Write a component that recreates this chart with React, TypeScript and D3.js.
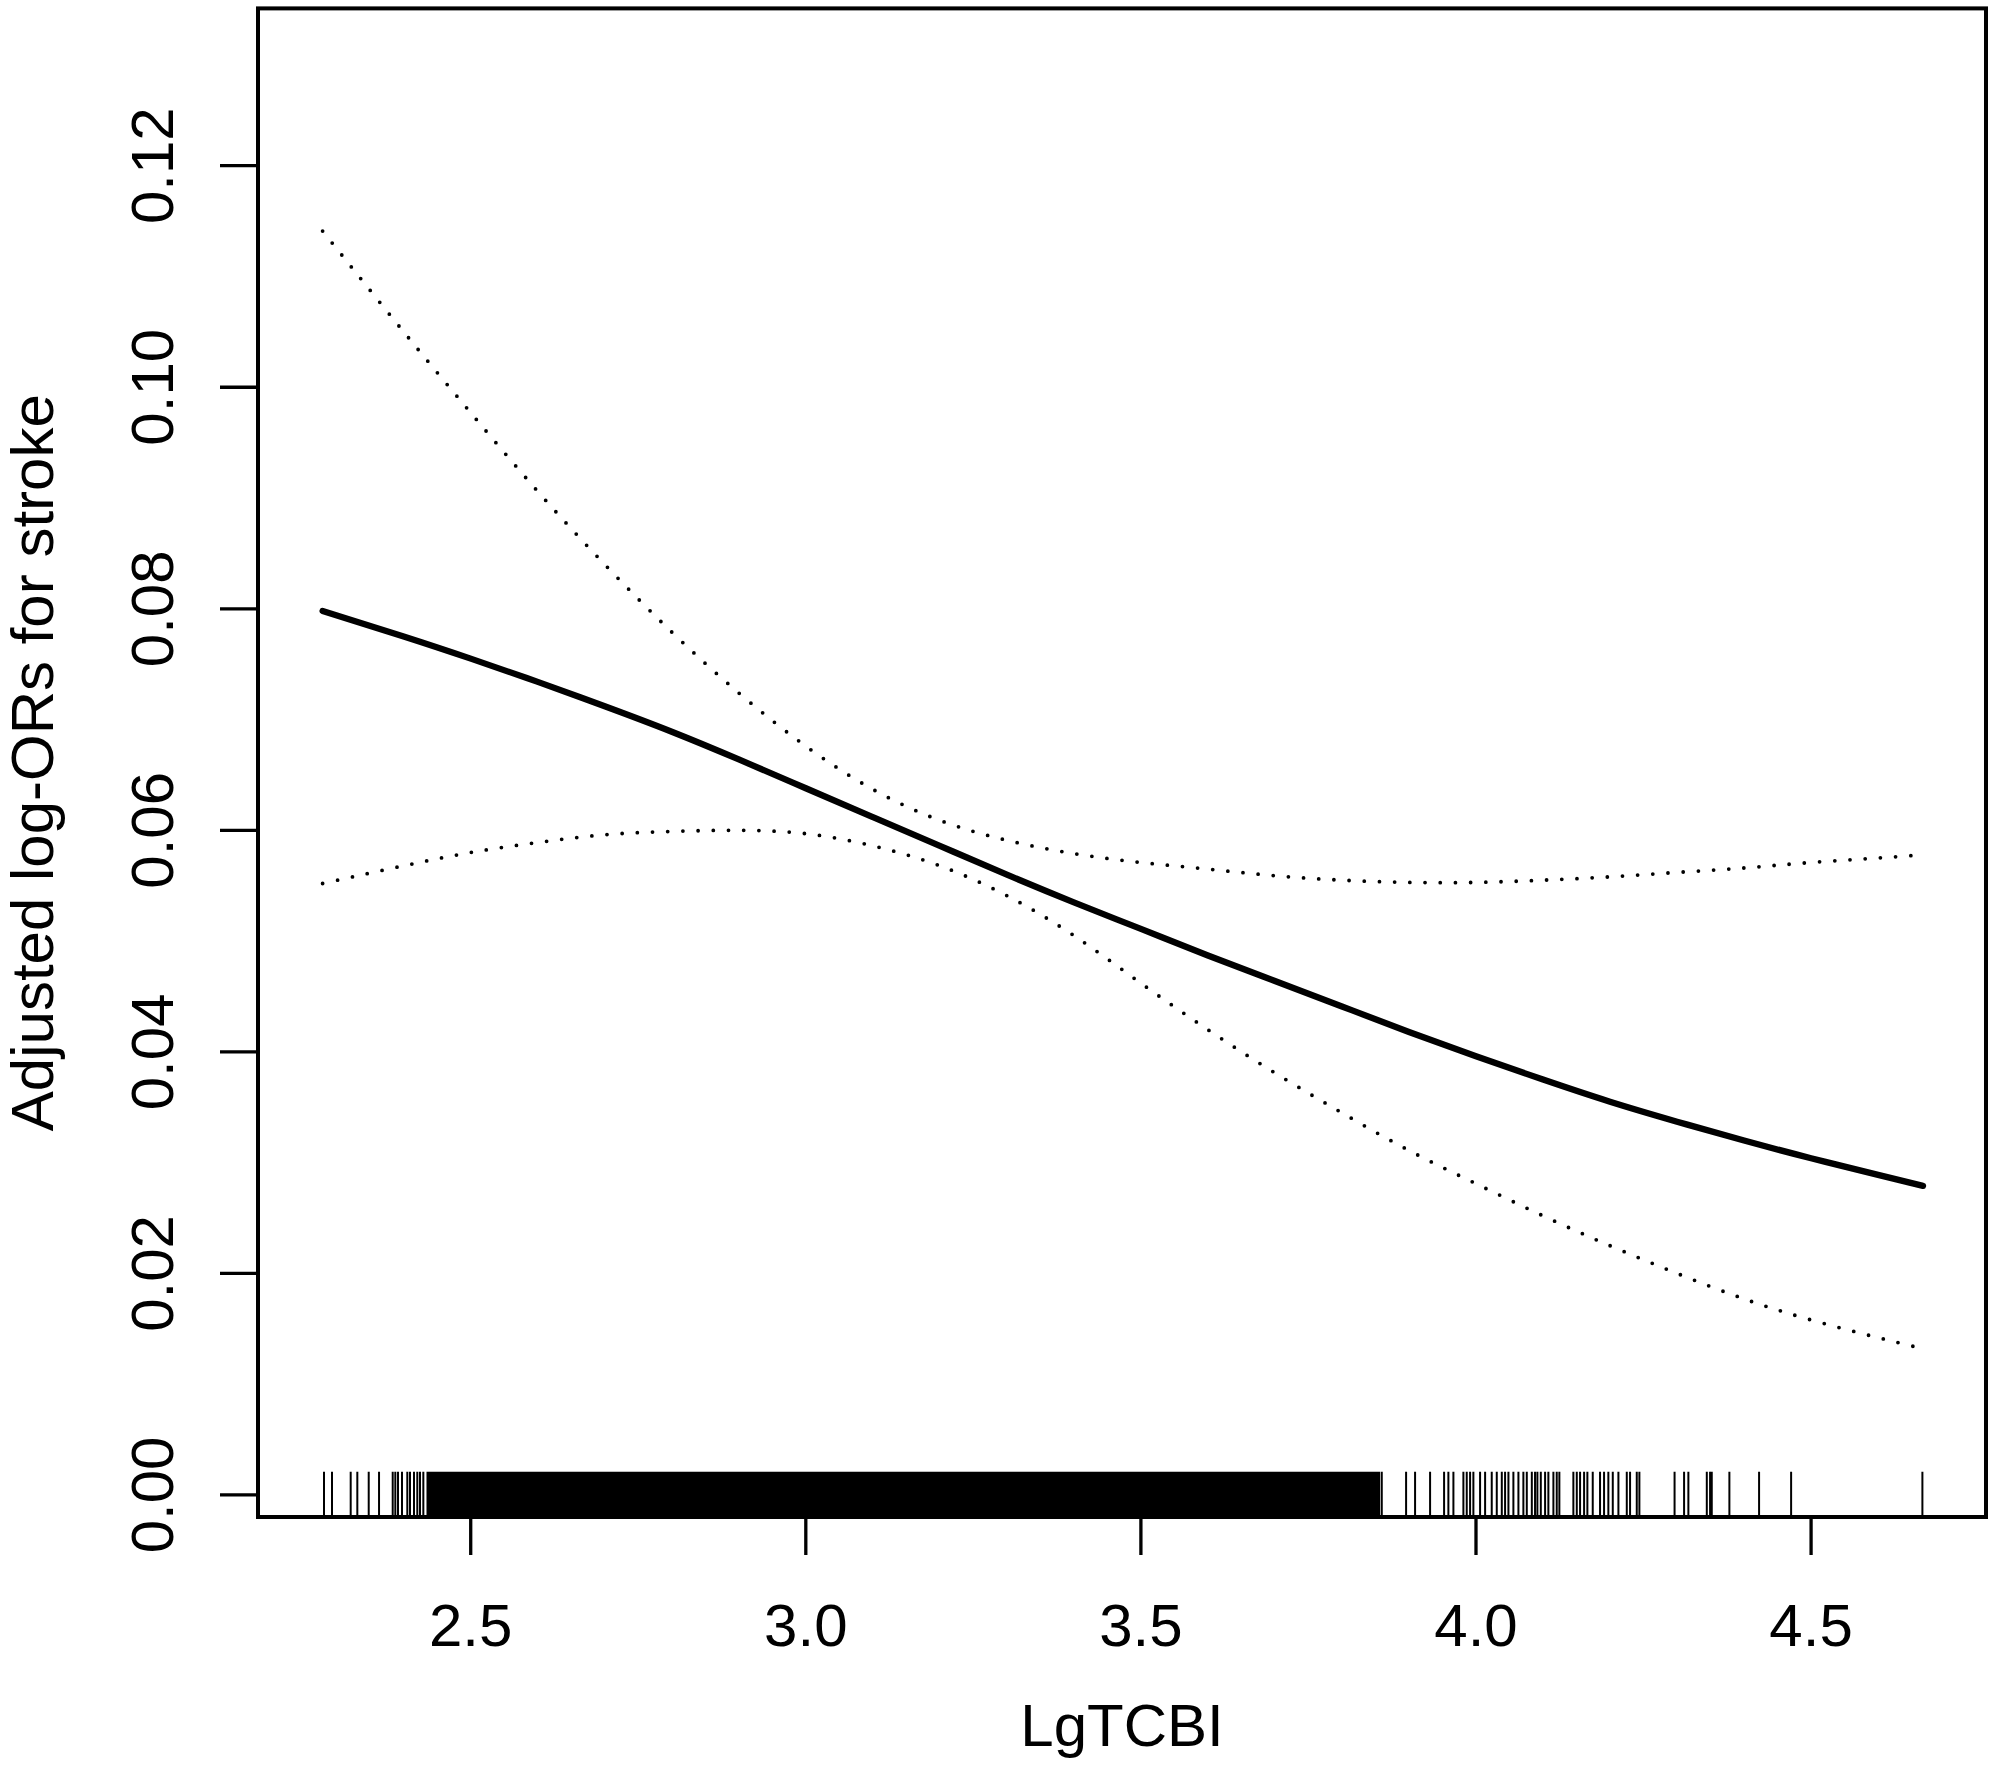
import { useMemo } from "react";
import * as d3 from "d3";

// ── Data ─────────────────────────────────────────────────────────────────────

const X_GRID = [
  2.279, 2.4, 2.5, 2.6, 2.7, 2.8, 2.9, 3.0, 3.1, 3.2, 3.3, 3.4, 3.5, 3.6, 3.7,
  3.8, 3.9, 4.0, 4.1, 4.2, 4.3, 4.4, 4.5, 4.6, 4.667,
];

const FIT = [
  0.0798, 0.0775, 0.0755, 0.0734, 0.0712, 0.0689, 0.0664, 0.0638, 0.0612,
  0.0586, 0.056, 0.0535, 0.0511, 0.0487, 0.0464, 0.0441, 0.0418, 0.0396,
  0.0375, 0.0355, 0.0337, 0.032, 0.0304, 0.0289, 0.0279,
];

const UPPER = [
  0.1141, 0.105, 0.0977, 0.0906, 0.084, 0.0779, 0.0724, 0.0676, 0.0637,
  0.0609, 0.0591, 0.0579, 0.0571, 0.0565, 0.0559, 0.0555, 0.0553, 0.0553,
  0.0555, 0.0558, 0.0562, 0.0566, 0.0571, 0.0575, 0.0578,
];

const LOWER = [
  0.0552, 0.0568, 0.058, 0.0589, 0.0596, 0.0599, 0.06, 0.0597, 0.0586,
  0.0568, 0.0541, 0.0505, 0.0462, 0.042, 0.0381, 0.0345, 0.0311, 0.0281,
  0.0252, 0.0225, 0.02, 0.0177, 0.0158, 0.0142, 0.0132,
];

// individual rug ticks (sparse tails)
const RUG_TICKS = [
  2.2811, 2.293, 2.3209, 2.3308, 2.3478, 2.3632, 2.3836, 2.3875, 2.3915,
  2.3975, 2.4054, 2.4094, 2.4154, 2.4203, 2.4243, 2.4293,
  3.8594, 3.8957, 3.9091, 3.9315, 3.9524, 3.9588, 3.9663, 3.9812, 3.9862,
  3.9912, 3.9961, 4.0061, 4.0136, 4.0235, 4.031, 4.0385, 4.0434, 4.0484,
  4.0558, 4.0633, 4.0707, 4.0758, 4.0833, 4.0881, 4.0916, 4.0967, 4.1031,
  4.108, 4.1155, 4.1205, 4.1244, 4.1453, 4.1504, 4.1553, 4.1613, 4.1662,
  4.1742, 4.1851, 4.1911, 4.1975, 4.2041, 4.2125, 4.225, 4.2299, 4.2399,
  4.2438, 4.2963, 4.3105, 4.3169, 4.3444, 4.3493, 4.3518, 4.3781, 4.4224,
  4.4702, 4.6661,
];

// stretch where the rug ticks merge into a solid block
const RUG_DENSE = [2.434, 3.857];

const X_TICKS = [2.5, 3.0, 3.5, 4.0, 4.5];
const Y_TICKS = [0, 0.02, 0.04, 0.06, 0.08, 0.1, 0.12];

const X_LIM = [2.1826, 4.761];
const Y_LIM = [-0.00199, 0.1342];

const X_TITLE = "LgTCBI";
const Y_TITLE = "Adjusted log-ORs for stroke";

// ── Layout ───────────────────────────────────────────────────────────────────

const W = 1995;
const H = 1765;
const PLOT = { left: 258, right: 1986, top: 8.4, bottom: 1517 };
const TICK_LEN = 38;
const FONT = "'Liberation Sans', Arial, Helvetica, sans-serif";
const FS = 60;

export default function App() {
  const x = useMemo(
    () => d3.scaleLinear().domain(X_LIM).range([PLOT.left, PLOT.right]),
    []
  );
  const y = useMemo(
    () => d3.scaleLinear().domain(Y_LIM).range([PLOT.bottom, PLOT.top]),
    []
  );

  const line = d3
    .line<number>()
    .x((_, i) => x(X_GRID[i]))
    .y((d) => y(d))
    .curve(d3.curveNatural);

  const rugTop = PLOT.bottom - 0.03 * (PLOT.bottom - PLOT.top);

  return (
    <svg
      width={W}
      height={H}
      style={{ position: "absolute", left: 0, top: 0, background: "#fff" }}
      fontFamily={FONT}
    >
      <rect x={0} y={0} width={W} height={H} fill="#fff" />

      {/* rug */}
      <rect
        x={x(RUG_DENSE[0])}
        y={rugTop}
        width={x(RUG_DENSE[1]) - x(RUG_DENSE[0])}
        height={PLOT.bottom - rugTop}
        fill="#000"
      />
      {RUG_TICKS.map((v, i) => (
        <line
          key={i}
          x1={x(v)}
          x2={x(v)}
          y1={rugTop}
          y2={PLOT.bottom}
          stroke="#000"
          strokeWidth={2}
        />
      ))}

      {/* confidence bounds */}
      <path
        d={line(UPPER) ?? ""}
        fill="none"
        stroke="#000"
        strokeWidth={3.8}
        strokeLinecap="round"
        strokeDasharray="0 15.2"
      />
      <path
        d={line(LOWER) ?? ""}
        fill="none"
        stroke="#000"
        strokeWidth={3.8}
        strokeLinecap="round"
        strokeDasharray="0 15.2"
      />

      {/* fitted curve */}
      <path
        d={line(FIT) ?? ""}
        fill="none"
        stroke="#000"
        strokeWidth={6.3}
        strokeLinecap="round"
        strokeLinejoin="round"
      />

      {/* box */}
      <rect
        x={PLOT.left}
        y={PLOT.top}
        width={PLOT.right - PLOT.left}
        height={PLOT.bottom - PLOT.top}
        fill="none"
        stroke="#000"
        strokeWidth={4}
      />

      {/* x axis */}
      {X_TICKS.map((t) => (
        <g key={t}>
          <line
            x1={x(t)}
            x2={x(t)}
            y1={PLOT.bottom}
            y2={PLOT.bottom + TICK_LEN}
            stroke="#000"
            strokeWidth={3.3}
          />
          <text x={x(t)} y={1646} textAnchor="middle" fontSize={FS} fill="#000">
            {t.toFixed(1)}
          </text>
        </g>
      ))}

      {/* y axis */}
      {Y_TICKS.map((t) => (
        <g key={t}>
          <line
            x1={PLOT.left - TICK_LEN}
            x2={PLOT.left}
            y1={y(t)}
            y2={y(t)}
            stroke="#000"
            strokeWidth={3.3}
          />
          <text
            transform={`translate(173,${y(t)}) rotate(-90)`}
            textAnchor="middle"
            fontSize={FS}
            fill="#000"
          >
            {t.toFixed(2)}
          </text>
        </g>
      ))}

      {/* titles */}
      <text
        x={(PLOT.left + PLOT.right) / 2}
        y={1746}
        textAnchor="middle"
        fontSize={FS}
        fill="#000"
      >
        {X_TITLE}
      </text>
      <text
        transform={`translate(53,${(PLOT.top + PLOT.bottom) / 2}) rotate(-90)`}
        textAnchor="middle"
        fontSize={FS}
        fill="#000"
      >
        {Y_TITLE}
      </text>
    </svg>
  );
}
